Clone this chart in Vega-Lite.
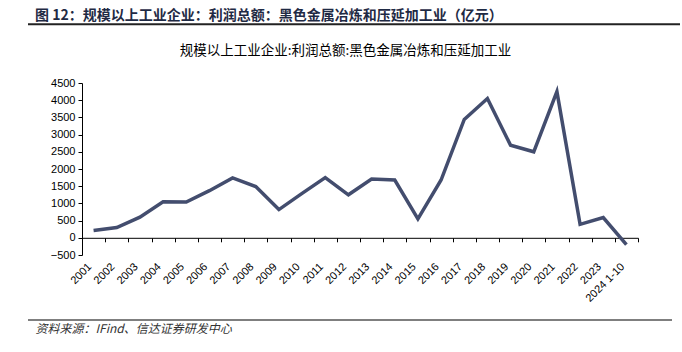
{
  "$schema": "https://vega.github.io/schema/vega-lite/v6.json",
  "width": 556,
  "height": 172,
  "autosize": {"type": "none"},
  "padding": {"left": 82, "top": 83, "right": 44, "bottom": 97},
  "background": "white",
  "config": {"view": {"stroke": null}},
  "title": {
    "text": "图 12：规模以上工业企业：利润总额：黑色金属冶炼和压延加工业（亿元）",
    "anchor": "start",
    "frame": "group",
    "dx": -47,
    "offset": 0,
    "font": "Noto Sans CJK SC",
    "fontSize": 14,
    "fontWeight": "bold",
    "color": "#1F2A44"
  },
  "data": {
    "values": [
      {"year": "2001", "profit": 210},
      {"year": "2002", "profit": 300},
      {"year": "2003", "profit": 600},
      {"year": "2004", "profit": 1050},
      {"year": "2005", "profit": 1040},
      {"year": "2006", "profit": 1370},
      {"year": "2007", "profit": 1740},
      {"year": "2008", "profit": 1490},
      {"year": "2009", "profit": 820},
      {"year": "2010", "profit": 1290},
      {"year": "2011", "profit": 1750},
      {"year": "2012", "profit": 1250},
      {"year": "2013", "profit": 1710},
      {"year": "2014", "profit": 1680},
      {"year": "2015", "profit": 550},
      {"year": "2016", "profit": 1680},
      {"year": "2017", "profit": 3440},
      {"year": "2018", "profit": 4050},
      {"year": "2019", "profit": 2690},
      {"year": "2020", "profit": 2500},
      {"year": "2021", "profit": 4250},
      {"year": "2022", "profit": 390},
      {"year": "2023", "profit": 590},
      {"year": "2024 1-10", "profit": -200}
    ]
  },
  "layer": [
    {
      "mark": {"type": "line", "color": "#434D6E", "strokeWidth": 3.5, "strokeJoin": "miter", "strokeCap": "butt"},
      "encoding": {
        "x": {
          "field": "year",
          "type": "nominal",
          "sort": null,
          "scale": {"paddingInner": 0, "paddingOuter": 0},
          "axis": {
            "title": "资料来源：IFind、信达证券研发中心",
            "titleX": -47,
            "titleY": 91,
            "titleAlign": "left",
            "titleAnchor": null,
            "titleBaseline": "middle",
            "titleFont": "Noto Sans CJK SC",
            "titleFontSize": 12,
            "titleFontStyle": "italic",
            "titleFontWeight": "normal",
            "titleColor": "#333333",
            "offset": -17.2,
            "tickBand": "extent",
            "tickSize": 4,
            "tickColor": "#000000",
            "domainColor": "#000000",
            "labelAngle": -45,
            "labelAlign": "right",
            "labelBaseline": "middle",
            "labelPadding": 23,
            "labelOffset": -4,
            "labelFont": "Liberation Sans",
            "labelFontSize": 11,
            "labelColor": "#000000"
          }
        },
        "y": {
          "field": "profit",
          "type": "quantitative",
          "scale": {"domain": [-500, 4500], "nice": false, "zero": false},
          "axis": {
            "values": [-500, 0, 500, 1000, 1500, 2000, 2500, 3000, 3500, 4000, 4500],
            "format": "d",
            "grid": false,
            "tickSize": 4,
            "tickColor": "#000000",
            "domainColor": "#000000",
            "labelPadding": 3,
            "labelFont": "Liberation Sans",
            "labelFontSize": 11,
            "labelColor": "#000000",
            "title": "规模以上工业企业:利润总额:黑色金属冶炼和压延加工业",
            "titleAngle": 0,
            "titleX": 263,
            "titleY": -33,
            "titleAlign": "center",
            "titleBaseline": "middle",
            "titleFont": "Noto Sans CJK SC",
            "titleFontSize": 13.5,
            "titleFontWeight": "normal",
            "titleColor": "#000000"
          }
        }
      }
    },
    {
      "data": {"values": [{"line": "header"}]},
      "mark": {"type": "rule", "color": "#222222", "strokeWidth": 2},
      "encoding": {"y": {"value": -58.7}, "x": {"value": -54}, "x2": {"value": 598}}
    },
    {
      "data": {"values": [{"line": "footer"}]},
      "mark": {"type": "rule", "color": "#555555", "strokeWidth": 1.5},
      "encoding": {"y": {"value": 237}, "x": {"value": -54}, "x2": {"value": 590}}
    }
  ]
}
